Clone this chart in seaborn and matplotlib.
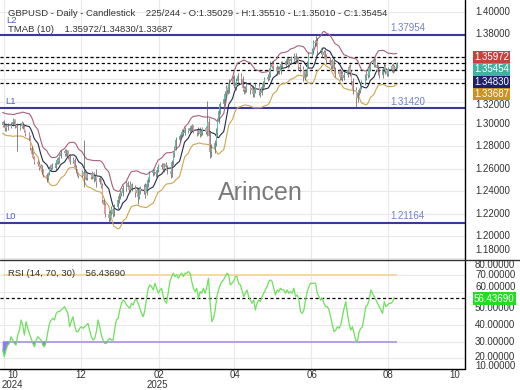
import numpy as np
import pandas as pd
import matplotlib
matplotlib.use("Agg")
import matplotlib.pyplot as plt
import matplotlib.dates as mdates
import seaborn as sns

sns.set_theme(style="white")
plt.rcParams['font.family'] = ['Liberation Sans', 'DejaVu Sans']

# ---------------- data ----------------
dates = pd.bdate_range("2024-09-30", "2025-08-08")   # 225 daily sessions
first_open = 1.2990
closes = [
    1.3010, 1.2985, 1.2960, 1.2990, 1.2975, 1.2995, 1.3020, 1.3035, 1.2990, 1.2960,
    1.2985, 1.3010, 1.2975, 1.2940, 1.2915, 1.2880, 1.2790, 1.2730, 1.2700, 1.2665,
    1.2640, 1.2610, 1.2625, 1.2580, 1.2545, 1.2515, 1.2560, 1.2600, 1.2630, 1.2610,
    1.2655, 1.2680, 1.2670, 1.2715, 1.2740, 1.2760, 1.2730, 1.2755, 1.2710, 1.2665,
    1.2680, 1.2620, 1.2585, 1.2560, 1.2540, 1.2570, 1.2535, 1.2565, 1.2520, 1.2550,
    1.2530, 1.2560, 1.2505, 1.2540, 1.2480, 1.2520, 1.2450, 1.2320, 1.2280, 1.2200,
    1.2160, 1.2210, 1.2240, 1.2200, 1.2260, 1.2320, 1.2360, 1.2390, 1.2380, 1.2430,
    1.2470, 1.2440, 1.2410, 1.2460, 1.2430, 1.2380, 1.2410, 1.2350, 1.2420, 1.2400,
    1.2440, 1.2380, 1.2460, 1.2500, 1.2560, 1.2580, 1.2570, 1.2550, 1.2590, 1.2620,
    1.2630, 1.2600, 1.2640, 1.2620, 1.2580, 1.2550, 1.2660, 1.2730, 1.2790, 1.2860,
    1.2890, 1.2900, 1.2930, 1.2920, 1.2950, 1.2940, 1.2960, 1.2980, 1.2970, 1.2940,
    1.2920, 1.2950, 1.2910, 1.2930, 1.2960, 1.2930, 1.3020, 1.2890, 1.2750, 1.2780,
    1.2830, 1.2920, 1.3030, 1.3120, 1.3180, 1.3220, 1.3270, 1.3320, 1.3300, 1.3370,
    1.3400, 1.3350, 1.3330, 1.3380, 1.3430, 1.3400, 1.3320, 1.3300, 1.3310, 1.3350,
    1.3300, 1.3320, 1.3270, 1.3300, 1.3340, 1.3290, 1.3280, 1.3330, 1.3360, 1.3400,
    1.3420, 1.3440, 1.3530, 1.3540, 1.3510, 1.3470, 1.3490, 1.3470, 1.3540, 1.3530,
    1.3560, 1.3570, 1.3530, 1.3560, 1.3580, 1.3610, 1.3570, 1.3580, 1.3510, 1.3490,
    1.3420, 1.3470, 1.3450, 1.3530, 1.3620, 1.3650, 1.3730, 1.3720, 1.3740, 1.3650,
    1.3660, 1.3620, 1.3640, 1.3600, 1.3570, 1.3550, 1.3520, 1.3560, 1.3490, 1.3450,
    1.3470, 1.3420, 1.3450, 1.3410, 1.3440, 1.3480, 1.3510, 1.3460, 1.3380, 1.3300,
    1.3230, 1.3280, 1.3300, 1.3340, 1.3370, 1.3420, 1.3450, 1.3440, 1.3500, 1.3530,
    1.3560, 1.3530, 1.3500, 1.3460, 1.3440, 1.3490, 1.3520, 1.3470, 1.3450, 1.3490,
    1.3520, 1.3480, 1.3510, 1.3503, 1.35454]
# upper / lower wick lengths beyond the body, in pips
wick_up = [
    18, 25, 12, 20, 15, 22, 30, 14, 10, 16,  20, 15, 12, 18, 10, 14, 22, 15, 18, 12,
    15, 20, 18, 12, 16, 22, 14, 25, 12, 18,  20, 15, 22, 18, 25, 14, 20, 12, 16, 18,
    22, 15, 18, 12, 14, 20, 290, 16, 18, 12, 15, 20, 14, 18, 60, 16, 12, 20, 15, 18,
    25, 20, 30, 18, 22, 16, 25, 20, 15, 28,  20, 24, 18, 30, 15, 22, 26, 18, 20, 25,
    22, 30, 18, 25, 20, 16, 22, 18, 24, 20,  18, 22, 16, 20, 15, 25, 20, 24, 18, 22,
    20, 15, 22, 18, 25, 16, 20, 14, 18, 22,  16, 20, 24, 18, 15, 22, 188, 30, 40, 45,
    30, 40, 25, 35, 20, 28, 22, 30, 25, 32,  28, 35, 24, 30, 26, 22, 30, 20, 25, 28,
    22, 30, 25, 20, 28, 24, 30, 22, 26, 20,  25, 30, 28, 22, 26, 20, 24, 30, 22, 25,
    20, 28, 24, 22, 30, 25, 20, 26, 22, 28,  30, 24, 22, 28, 26, 30, 24, 20, 55, 25,
    22, 28, 20, 25, 22, 30, 24, 20, 28, 22,  25, 20, 28, 22, 26, 30, 20, 24, 22, 28,
    30, 25, 22, 28, 20, 26, 24, 22, 28, 20,  22, 26, 20, 24, 28, 22, 25, 20, 24, 22,
    20, 24, 18, 22, 6]
wick_dn = [
    20, 15, 22, 18, 25, 12, 16, 20, 24, 200, 15, 18, 22, 12, 20, 25, 18, 22, 15, 20,
    18, 22, 15, 25, 20, 30, 16, 18, 22, 15,  20, 16, 24, 18, 15, 22, 20, 25, 18, 20,
    15, 22, 18, 25, 20, 16, 95, 22, 18, 20,  18, 22, 25, 16, 40, 20, 22, 28, 25, 30,
    44, 30, 25, 28, 22, 20, 25, 30, 22, 20,  25, 22, 30, 20, 24, 28, 22, 60, 20, 25,
    22, 40, 18, 25, 20, 22, 28, 24, 20, 18,  22, 20, 25, 18, 24, 28, 20, 22, 25, 20,
    18, 22, 20, 25, 16, 22, 18, 24, 20, 22,  24, 18, 22, 20, 25, 22, 35, 40, 50, 45,
    40, 30, 35, 25, 30, 22, 28, 25, 30, 22,  25, 30, 28, 22, 26, 30, 24, 28, 22, 25,
    28, 22, 30, 25, 20, 28, 40, 22, 25, 28,  20, 25, 22, 28, 24, 30, 22, 25, 20, 28,
    22, 25, 28, 20, 24, 22, 28, 25, 30, 24,  40, 25, 28, 22, 20, 25, 22, 28, 24, 30,
    25, 22, 28, 24, 30, 22, 25, 28, 22, 26,  22, 28, 25, 30, 20, 24, 22, 28, 30, 35,
    88, 30, 25, 22, 28, 20, 24, 26, 22, 25,  24, 22, 28, 20, 25, 30, 22, 26, 24, 20,
    22, 25, 20, 24, 2]
levels = {"L2": 1.37954, "L1": 1.31420, "L0": 1.21164}
tmab_last = [1.35972, 1.34830, 1.33687]   # upper / middle / lower
last_close = 1.35454
rsi_values = [
    25, 21, 25, 28, 29, 33, 31, 29, 28, 34, 37, 43, 40, 34, 42, 38, 35, 32, 29, 27,
    31, 33, 32, 31, 28, 27, 30, 36, 41, 43, 44, 43, 47, 48, 48, 49, 50, 51, 49, 47,
    39, 42, 45, 40, 36, 36, 38, 39, 38, 39, 40, 41, 37, 33, 31, 32, 36, 43, 39, 34,
    31, 29, 29, 31, 32, 31, 31, 38, 43, 44, 49, 53, 55, 54, 52, 51, 50, 53, 52, 55,
    55, 53, 50, 47, 45, 49, 56, 62, 64, 63, 61, 65, 62, 59, 61, 62, 57, 54, 53, 60,
    66, 69, 71, 69, 70, 68, 70, 71, 69, 71, 71, 72, 71, 66, 62, 60, 62, 56, 60, 59,
    62, 59, 63, 68, 53, 42, 44, 49, 57, 61, 64, 66, 67, 69, 71, 70, 64, 65, 66, 69,
    69, 65, 64, 61, 57, 59, 61, 57, 55, 53, 55, 49, 53, 55, 54, 57, 59, 61, 63, 66,
    67, 66, 62, 58, 61, 60, 62, 61, 61, 59, 61, 59, 60, 59, 62, 57, 58, 55, 48, 47,
    49, 55, 60, 63, 65, 65, 65, 65, 59, 57, 55, 56, 53, 51, 51, 49, 45, 40, 36, 37,
    39, 38, 40, 45, 50, 54, 47, 41, 37, 39, 35, 31, 30, 36, 38, 39, 45, 51, 52, 55,
    61, 59, 57, 55, 53, 51, 49, 47, 54, 51, 52, 53, 53, 54, 56.4369]
rsi_now = 56.43690
price_ticks = [1.40, 1.38, 1.36, 1.34, 1.32, 1.30, 1.28, 1.26, 1.24, 1.22, 1.20, 1.18]
price_labels_shown = [1.40, 1.38, 1.30, 1.28, 1.26, 1.24, 1.22, 1.20]
rsi_ticks = [70, 60, 50, 40, 30, 20]
rsi_labels_shown = [70, 50, 40, 30]
month_ticks = ["2024-10-01", "2024-12-01", "2025-02-01", "2025-04-01",
               "2025-06-01", "2025-08-01", "2025-10-01"]
month_labels = ["10", "12", "02", "04", "06", "08", "10"]
year_labels = {"10": "2024", "02": "2025"}

# ---------------- derived series ----------------
PIP = 0.0001
c = np.array(closes)
o = np.array([first_open] + closes[:-1])
top = np.maximum(o, c)
bot = np.minimum(o, c)
hi = top + np.array(wick_up) * PIP
lo = bot - np.array(wick_dn) * PIP
df = pd.DataFrame({"date": dates, "open": o, "high": hi, "low": lo, "close": c})
cs = df["close"]
df["mid"] = cs.rolling(5, min_periods=1).mean().rolling(6, min_periods=1).mean()
prev = cs.shift(1).fillna(df["open"])
tr = pd.concat([df["high"] - df["low"], (df["high"] - prev).abs(),
                (df["low"] - prev).abs()], axis=1).max(axis=1)
atr = tr.rolling(20, min_periods=1).mean().rolling(10, min_periods=1).mean()
df["upper"] = df["mid"] + 1.6 * atr
df["lower"] = df["mid"] - 1.6 * atr

# ---------------- figure ----------------
W, H = 520, 390
fig = plt.figure(figsize=(W / 100, H / 100), dpi=100)
fig.patch.set_facecolor("white")
PR = 465  # right edge of plot area in px
ax = fig.add_axes([0, 1 - 260 / H, PR / W, 260 / H])
axr = fig.add_axes([0, 1 - 369 / H, PR / W, 109 / H])

x0 = mdates.date2num(pd.Timestamp("2024-10-01")) - 3.1
x1 = mdates.date2num(pd.Timestamp("2025-10-01"))
mt = [mdates.date2num(pd.Timestamp(m)) for m in month_ticks]
for a in (ax, axr):
    a.set_xlim(x0, x1)
    a.set_xticks(mt)
    a.grid(True, color="#e9e9e9", lw=0.8)
    a.tick_params(labelleft=False, labelbottom=False, length=0)
    for s in a.spines.values():
        s.set_visible(False)
    a.set_facecolor("white")
    a.set_axisbelow(True)

ax.set_ylim(1.1786, 1.4107)
ax.set_yticks(price_ticks)
axr.set_ylim(13.7, 78.9)
axr.set_yticks(rsi_ticks)

dn = mdates.date2num(df["date"])
# dashed price lines
for v in tmab_last + [last_close]:
    ax.axhline(v, color="black", lw=0.9, ls=(0, (2.5, 2)), zorder=1)
# level lines
for name, v in levels.items():
    ax.axhline(v, color="#3a3a9a", lw=1.5, zorder=2)

# TMA bands
sns.lineplot(x=dn, y=df["upper"].values, ax=ax, color="#a8607a", lw=0.8, zorder=3)
sns.lineplot(x=dn, y=df["mid"].values, ax=ax, color="#1f2a4d", lw=0.8, zorder=3)
sns.lineplot(x=dn, y=df["lower"].values, ax=ax, color="#cba650", lw=0.8, zorder=3)

# candles
up = df["close"] >= df["open"]
cols = np.where(up, "#62bca5", "#e69a9a")
ax.vlines(dn, df["low"], df["high"], color="#555555", lw=0.5, zorder=4)
ax.bar(dn, np.maximum(top - bot, 0.0003), bottom=bot, width=0.9, color=cols,
       linewidth=0, zorder=5)

# level texts
fig.text(6 / W, 1 - 20.5 / H, "L2", color="#5060c0", fontsize=6.8,
         va="center", ha="left")
ax.text(5 / PR, levels["L1"] + 0.0058, "L1", transform=ax.get_yaxis_transform(),
        color="#5060c0", fontsize=6.8, va="center", ha="left")
ax.text(5 / PR, levels["L0"] + 0.0058, "L0", transform=ax.get_yaxis_transform(),
        color="#5060c0", fontsize=6.8, va="center", ha="left")
for name, v in levels.items():
    ax.text(390 / PR, v + 0.0058, f"{v:.5f}", transform=ax.get_yaxis_transform(),
            color="#7080d0", fontsize=7, va="center", ha="left")

# header texts
fig.text(8 / W, 1 - 13 / H,
         "GBPUSD - Daily - Candlestick    225/244 - O:1.35029 - H:1.35510 - L:1.35010 - C:1.35454",
         fontsize=6.8, color="#333333", va="center", ha="left")
fig.text(8 / W, 1 - 29.5 / H,
         "TMAB (10)    " + "/".join(f"{v:.5f}" for v in tmab_last),
         fontsize=6.8, color="#333333", va="center", ha="left")
fig.text(260 / W, 1 - 193 / H, "Arincen", fontsize=18, color="#7a7a7a",
         va="center", ha="center")

# right axis price labels
for v in price_labels_shown:
    ax.text(475 / PR, v, f"{v:.5f}", transform=ax.get_yaxis_transform(),
            fontsize=7, color="#333333", va="center", ha="left", clip_on=False)
fig.text(475 / W, 1 - 104.5 / H, "1.32000", fontsize=7, color="#333333",
         va="center", ha="left")
fig.text(475 / W, 1 - 250 / H, "1.18000", fontsize=7, color="#333333",
         va="center", ha="left")
box_cols = ["#c8423c", "#3fb2a0", "#1e2068", "#c99222"]
box_vals = [tmab_last[0], last_close, tmab_last[1], tmab_last[2]]
box_py = [57, 69.5, 82, 94]
for col, v, py in zip(box_cols, box_vals, box_py):
    fig.text(474 / W, 1 - py / H, f"{v:.5f}", fontsize=7, color="white",
             va="center", ha="left",
             bbox=dict(boxstyle="square,pad=0.15", fc=col, ec="none"))

# ---------------- RSI panel ----------------
rx = np.linspace(dn[0], dn[-1] - 2, len(rsi_values))
rv = np.array(rsi_values)
axr.hlines(70, dn[0], dn[-1], color="#f4d9a2", lw=1.4, zorder=2)
axr.hlines(30, dn[0], dn[-1], color="#b79ee8", lw=1.4, zorder=2)
axr.fill_between(rx, rv, 30, where=rv < 30, interpolate=True, color="#8f7fe6",
                 lw=0, zorder=2)
axr.axhline(rsi_now, color="black", lw=0.9, ls=(0, (2.5, 2)), zorder=3)
sns.lineplot(x=rx, y=rv, ax=axr, color="#6ee05c", lw=0.9, zorder=4)
axr.text(8 / PR, 0.875, "RSI (14, 70, 30)    56.43690", transform=axr.transAxes,
         fontsize=6.8, color="#333333", va="center", ha="left")
for v in rsi_labels_shown:
    axr.text(475 / PR, v, f"{v:.5f}", transform=axr.get_yaxis_transform(),
             fontsize=7, color="#333333", va="center", ha="left", clip_on=False)
fig.text(475 / W, 1 - 287.5 / H, "60.00000", fontsize=7, color="#333333",
         va="center", ha="left")
fig.text(475 / W, 1 - 265 / H, "80.00000", fontsize=7, color="#333333",
         va="center", ha="left")
fig.text(475 / W, 1 - 357 / H, "20.00000", fontsize=7, color="#333333",
         va="center", ha="left")
fig.text(475 / W, 1 - 366 / H, "10.00000", fontsize=7, color="#333333",
         va="center", ha="left")
fig.text(474 / W, 1 - 298.5 / H, f"{rsi_now:.5f}", fontsize=7, color="white",
         va="center", ha="left",
         bbox=dict(boxstyle="square,pad=0.15", fc="#22dd22", ec="none"))

# x labels
label_px = [13, 81, 159, 235, 312, 388, 455]
for px, lab in zip(label_px, month_labels):
    fig.text(px / W, 1 - 375.5 / H, lab, fontsize=7, color="#333333",
             va="center", ha="center")
fig.text(12 / W, 1 - 385 / H, year_labels["10"], fontsize=7, color="#333333",
         va="center", ha="center")
fig.text(157 / W, 1 - 385 / H, year_labels["02"], fontsize=7, color="#333333",
         va="center", ha="center")

# frame lines
fig.add_artist(plt.Line2D([PR / W, PR / W], [1 - 369 / H, 1], color="black", lw=1))
fig.add_artist(plt.Line2D([0, 1], [1 - 260 / H, 1 - 260 / H], color="#333333", lw=1))
fig.add_artist(plt.Line2D([0, PR / W], [1 - 369 / H, 1 - 369 / H], color="black", lw=1))

fig.savefig("out.png", dpi=100, facecolor="white")
